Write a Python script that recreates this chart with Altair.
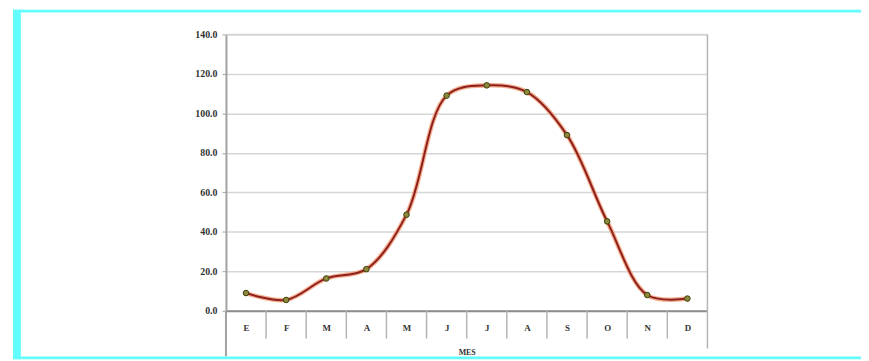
import json
import altair as alt
import pandas as pd

# ---- data ----
meses = ["E", "F", "M", "A", "M", "J", "J", "A", "S", "O", "N", "D"]
valores = [9.0, 5.5, 16.4, 21.1, 48.7, 109.0, 114.2, 110.8, 89.0, 45.3, 8.0, 6.2]
y_ticks = [0, 20, 40, 60, 80, 100, 120, 140]
x_title = "MES"

df = pd.DataFrame({"idx": list(range(len(meses))), "mes": meses, "valor": valores})

W, H = 486, 279
FONT = "Liberation Serif"
GRID = "#d6d6d6"
AXIS = "#a2a2a2"
label_expr = json.dumps(meses) + "[datum.value]"

x_scale = alt.Scale(domain=[-0.5, len(meses) - 0.5], nice=False, zero=False)
y_scale = alt.Scale(domain=[0, 140], nice=False, zero=True)

x_axis = alt.Axis(
    values=list(range(len(meses))), labelExpr=label_expr, labelAngle=0,
    ticks=False, grid=False, domainColor="#8c8c8c", domainWidth=2,
    labelFont=FONT, labelFontWeight="bold", labelFontSize=9, labelColor="#333333",
    labelPadding=13, labelOverlap=False, labelBound=False, labelFlush=False,
    titleFont=FONT, titleFontSize=8, titleFontWeight="bold",
    titleColor="#333333", titleY=42, titleBaseline="middle",
)
y_axis = alt.Axis(
    values=y_ticks, tickCount=len(y_ticks), format=".1f", grid=True, gridColor=GRID, gridWidth=1.5,
    domainColor=AXIS, domainWidth=2, tickSize=4, tickColor=AXIS,
    labelFont=FONT, labelFontWeight="bold", labelFontSize=10, labelColor="#333333",
    labelPadding=5, labelOverlap=False, labelBound=False, labelFlush=False, title=None,
)

X = alt.X("idx:Q", scale=x_scale, axis=x_axis, title=x_title)
Y = alt.Y("valor:Q", scale=y_scale, axis=y_axis)

base = alt.Chart(df).encode(x=X, y=Y)

halo = base.mark_line(interpolate="catmull-rom", color="#f2a27a", strokeWidth=4.5, opacity=0.85)
core = base.mark_line(interpolate="catmull-rom", color="#8e1f1f", strokeWidth=2)
points = base.mark_circle(size=32, color="#8c8a3a", opacity=1, stroke="#3f3f10", strokeWidth=1)

# category separators below the axis
seps = alt.Chart(df).transform_calculate(sep="datum.idx - 0.5").mark_rule(
    color="#b4b4b4", strokeWidth=1.5
).encode(
    x=alt.X("sep:Q", scale=x_scale, axis=x_axis, title=x_title),
    y=alt.value(H), y2=alt.value(H + 28),
)

one = alt.Chart(pd.DataFrame({"k": [0]}))
top_line = one.mark_rule(color=GRID, strokeWidth=1.5).encode(
    x=alt.value(0), x2=alt.value(W), y=alt.value(0))
right_line = one.mark_rule(color="#b4b4b4", strokeWidth=1.5).encode(
    x=alt.value(W), y=alt.value(0), y2=alt.value(H + 38))
left_ext = one.mark_rule(color=AXIS, strokeWidth=2).encode(
    x=alt.value(0), y=alt.value(H), y2=alt.value(H + 46))

CYAN = "#63fdfd"
frame_top = one.mark_rect(color=CYAN).encode(
    x=alt.value(-215), x2=alt.value(641), y=alt.value(-25), y2=alt.value(-22))
frame_left = one.mark_rect(color=CYAN).encode(
    x=alt.value(-215), x2=alt.value(-207), y=alt.value(-25), y2=alt.value(H + 49))
frame_bottom = one.mark_rect(color=CYAN).encode(
    x=alt.value(-215), x2=alt.value(641), y=alt.value(H + 46), y2=alt.value(H + 49))

chart = alt.layer(
    halo, core, points, seps, top_line, right_line, left_ext, frame_top, frame_left, frame_bottom
).properties(
    width=W, height=H,
    autosize=alt.AutoSizeParams(type="none"),
    padding={"left": 220, "top": 25, "right": 155, "bottom": 49},
    background="white",
).configure_view(stroke=None)

chart.save("out.html", embed_options={"renderer": "svg", "actions": False})
